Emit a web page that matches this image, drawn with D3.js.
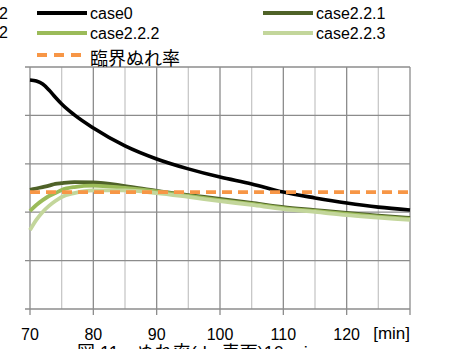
<!DOCTYPE html>
<meta charset="utf-8">
<body>
<script src="https://cdn.jsdelivr.net/npm/d3@7"></script>
<script>

    // minutes
    var times = [70, 71, 72, 73, 74, 75, 77, 80, 85, 90, 95, 100, 105, 110, 115, 120, 125, 130];

    var case0    = [0.946, 0.942, 0.93, 0.905, 0.875, 0.847, 0.802, 0.748, 0.674, 0.62, 0.579, 0.545, 0.517, 0.483, 0.459, 0.438, 0.421, 0.409];
    var case221  = [0.492, 0.498, 0.504, 0.51, 0.517, 0.52, 0.524, 0.523, 0.508, 0.488, 0.471, 0.455, 0.438, 0.421, 0.409, 0.397, 0.386, 0.376];
    var case222  = [0.405, 0.43, 0.45, 0.467, 0.479, 0.492, 0.504, 0.51, 0.5, 0.486, 0.467, 0.45, 0.434, 0.417, 0.405, 0.393, 0.382, 0.372];
    var case223  = [0.326, 0.368, 0.401, 0.426, 0.446, 0.463, 0.479, 0.49, 0.49, 0.479, 0.463, 0.446, 0.43, 0.413, 0.401, 0.388, 0.378, 0.368];
    var critical = 0.483;

    var xTicks = [70, 80, 90, 100, 110, 120];
    var yTicks = [0, 0.2, 0.4, 0.6, 0.8, 1];

    var series = [
        {name: "case0",     values: case0,   color: "#000000"},
        {name: "case2.2.1", values: case221, color: "#4f6228"},
        {name: "case2.2.2", values: case222, color: "#9bbb59"},
        {name: "case2.2.3", values: case223, color: "#c3d69b"}
    ];

    var w = 449, h = 349;

    var x = d3.scaleLinear().domain([70, 130]).range([30, 410]);
    var y = d3.scaleLinear().domain([0, 1]).range([309, 67]);

    var svg = d3.select("body").append("svg")
        .attr("width", w)
        .attr("height", h);

    // vertical grid, every 5 min
    var vgrid = d3.range(70, 131, 5);
    svg.selectAll(".vg")
        .data(vgrid)
        .enter().append("line")
         .attr("class", "vg")
         .attr("x1", function(d) { return x(d); })
         .attr("x2", function(d) { return x(d); })
         .attr("y1", y(1))
         .attr("y2", function(d) { return d % 10 == 0 ? y(0) + 6 : y(0); })
         .attr("stroke", function(d) { return d % 10 == 0 ? "#8c8c8c" : "#c8c8c8"; })
         .attr("stroke-width", 1.3);

    svg.selectAll(".hg")
        .data(yTicks)
        .enter().append("line")
         .attr("class", "hg")
         .attr("x1", x(70) - 5)
         .attr("x2", x(130))
         .attr("y1", function(d) { return y(d); })
         .attr("y2", function(d) { return y(d); })
         .attr("stroke", "#8c8c8c")
         .attr("stroke-width", 1.3);

    svg.selectAll(".xt")
        .data(xTicks)
        .enter().append("text")
         .attr("class", "xt")
         .attr("x", function(d) { return x(d); })
         .attr("y", 340)
         .style("text-anchor", "middle")
         .text(function(d) { return d; });

    svg.append("text")
        .attr("x", 410)
        .attr("y", 339)
        .style("text-anchor", "end")
        .style("font-size", "17px")
        .text("[min]");

    var line = d3.line()
        .x(function(d, i) { return x(times[i]); })
        .y(function(d) { return y(d); })
        .curve(d3.curveMonotoneX);

    svg.selectAll(".series")
        .data(series)
        .enter().append("path")
         .attr("class", "series")
         .attr("d", function(d) { return line(d.values); })
         .attr("fill", "none")
         .attr("stroke", function(d) { return d.color; })
         .attr("stroke-width", function(d) { return d.name == "case0" ? 3.6 : 3.8; });

    svg.append("line")
        .attr("x1", x(70))
        .attr("x2", x(130))
        .attr("y1", y(critical))
        .attr("y2", y(critical))
        .attr("stroke", "#f79646")
        .attr("stroke-width", 3.6)
        .attr("stroke-dasharray", "10,6");

    // legend
    var leg = [
        {name: "case0",     color: "#000000", lx: 37,  ly: 13},
        {name: "case2.2.2", color: "#9bbb59", lx: 37,  ly: 33},
        {name: "case2.2.1", color: "#4f6228", lx: 263, ly: 13},
        {name: "case2.2.3", color: "#c3d69b", lx: 263, ly: 33}
    ];

    var lg = svg.selectAll(".leg")
        .data(leg)
        .enter().append("g")
         .attr("class", "leg");

    lg.append("line")
        .attr("x1", function(d) { return d.lx; })
        .attr("x2", function(d) { return d.lx + 50; })
        .attr("y1", function(d) { return d.ly; })
        .attr("y2", function(d) { return d.ly; })
        .attr("stroke", function(d) { return d.color; })
        .attr("stroke-width", 4);

    lg.append("text")
        .attr("x", function(d) { return d.lx + 53; })
        .attr("y", function(d) { return d.ly + 6; })
        .text(function(d) { return d.name; });

    svg.append("line")
        .attr("x1", 37)
        .attr("x2", 81)
        .attr("y1", 55)
        .attr("y2", 55)
        .attr("stroke", "#f79646")
        .attr("stroke-width", 4)
        .attr("stroke-dasharray", "10,7");

    svg.append("text")
        .attr("class", "jp")
        .attr("x", 90)
        .attr("y", 65)
        .style("font-size", "18px")
        .text("臨界ぬれ率");

    // cut-off bits at the left edge
    svg.append("text").attr("x", -1).attr("y", 19).text("2");
    svg.append("text").attr("x", -1).attr("y", 38).text("2");

    // caption, mostly below the frame
    svg.append("text")
        .attr("class", "jp")
        .attr("x", 77)
        .attr("y", 359)
        .style("font-size", "18px")
        .text("図 11　ぬれ率(du 表面)10 min");

</script>
<style>
    body { margin: 0; background: #fff; }
    svg { display: block; }
    text {
        font: 16px "Liberation Sans", Arial, sans-serif;
        fill: #000;
    }
    text.jp {
        font-family: "Liberation Sans", "Noto Sans CJK JP", sans-serif;
    }
</style>
